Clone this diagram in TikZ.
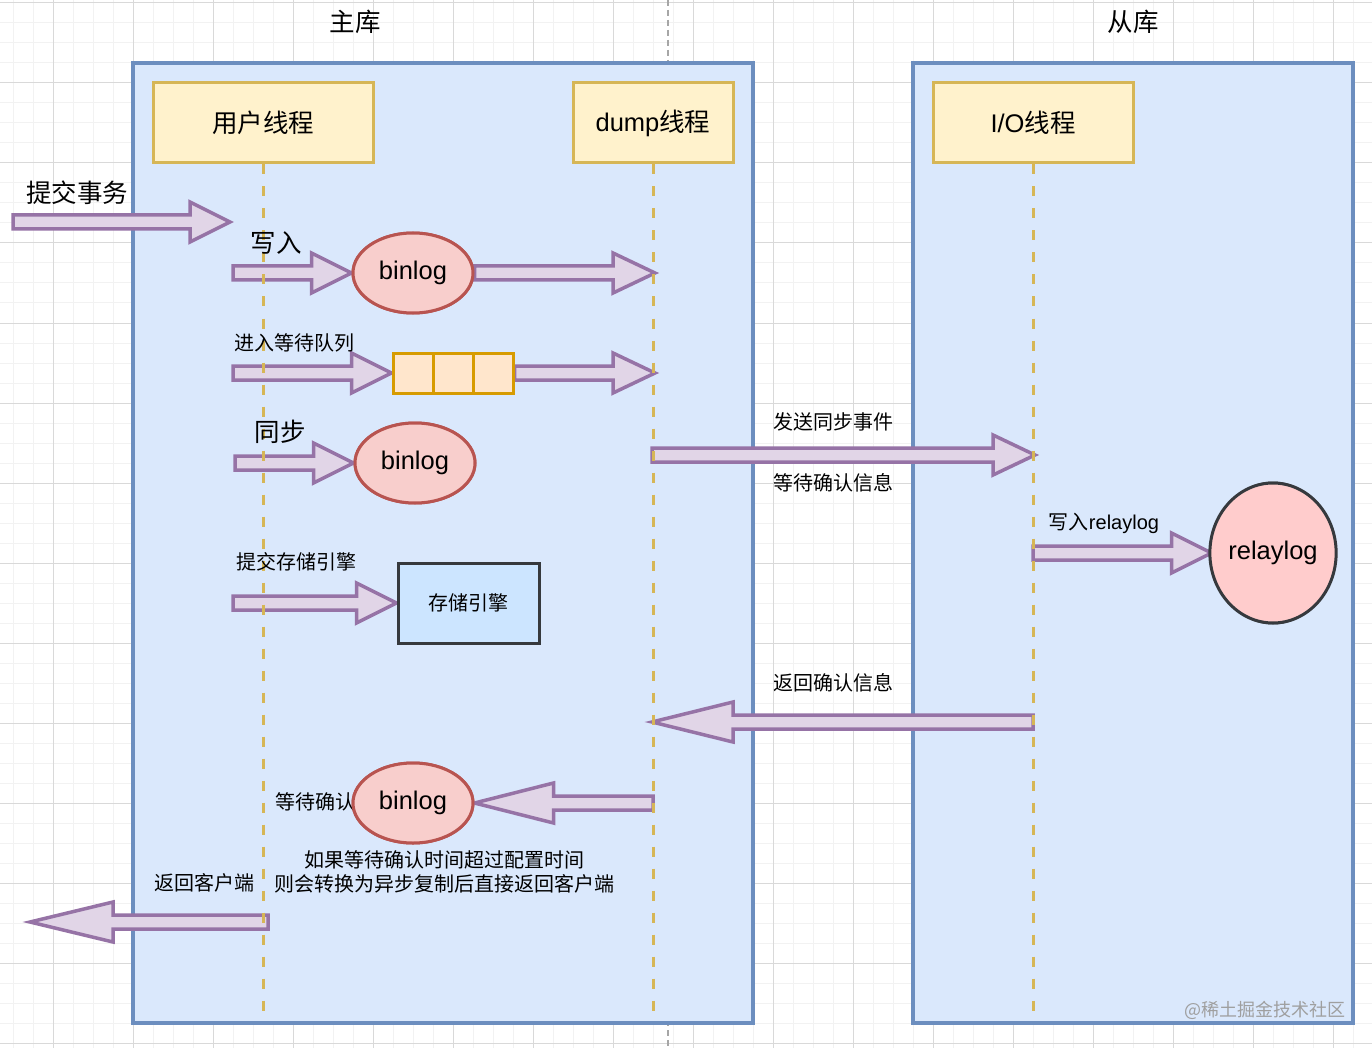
\documentclass[tikz,border=0pt]{standalone}
\usepackage{fontspec}
\setmainfont{Noto Sans CJK SC}
\newfontfamily\lat{Liberation Sans}
\usetikzlibrary{shapes.geometric,calc}
\definecolor{contF}{HTML}{DAE8FC}
\definecolor{contD}{HTML}{6C8EBF}
\definecolor{thrF}{HTML}{FFF2CC}
\definecolor{thrD}{HTML}{D6B656}
\definecolor{logF}{HTML}{F8CECC}
\definecolor{logD}{HTML}{B85450}
\definecolor{queF}{HTML}{FFE6CC}
\definecolor{queD}{HTML}{D79B00}
\definecolor{arrF}{HTML}{E1D5E7}
\definecolor{arrD}{HTML}{9673A6}
\definecolor{engF}{HTML}{CCE5FF}
\definecolor{darkD}{HTML}{36393D}
\definecolor{relF}{HTML}{FFCCCC}
\definecolor{gridMinor}{HTML}{F2F2F2}
\definecolor{gridMajor}{HTML}{D9D9D9}
\newcommand\fsL{\fontsize{25.5}{30}\selectfont}
\newcommand\fsS{\fontsize{20}{24}\selectfont}
\newcommand\fatarrow[3][40]{%
  \draw[fatarr] let \p1=(#2), \p2=(#3), \n1={(\x2-\x1)/abs(\x2-\x1)} in
    (\x1,\y1+7pt) -- (\x2-\n1*#1pt,\y1+7pt) -- (\x2-\n1*#1pt,\y1+20pt) --
    (\x2,\y1) -- (\x2-\n1*#1pt,\y1-20pt) -- (\x2-\n1*#1pt,\y1-7pt) --
    (\x1,\y1-7pt) -- cycle;}
\tikzset{
  container/.style={draw=contD,fill=contF,line width=3.5pt,outer sep=0pt,inner sep=0pt,anchor=north west},
  thread/.style={draw=thrD,fill=thrF,line width=3pt,minimum width=#1,minimum height=80pt,inner sep=0pt,font=\fsL},
  logell/.style={ellipse,draw=logD,fill=logF,line width=3pt,minimum width=120pt,minimum height=80pt,inner sep=0pt,font=\fsL\lat},
  quebox/.style={draw=queD,fill=queF,line width=3pt,minimum width=40pt,minimum height=40pt,inner sep=0pt},
  engbox/.style={draw=darkD,fill=engF,line width=3pt,minimum width=141pt,minimum height=80pt,inner sep=0pt,font=\fsS},
  relell/.style={ellipse,draw=darkD,fill=relF,line width=3pt,minimum width=120pt,minimum height=140pt,inner sep=0pt,font=\fsL\lat},
  fatarr/.style={draw=arrD,fill=arrF,line width=3.5pt,line join=miter},
  lifeline/.style={draw=thrD,line width=3pt,dash pattern=on 10pt off 12pt},
  lbl/.style={font=\fsS,inner sep=0pt},
  lblL/.style={font=\fsL,inner sep=0pt}
}
\begin{document}
\begin{tikzpicture}[x=1pt,y=-1pt]
\useasboundingbox (0,0) rectangle (1372,1048);
\fill[white] (0,0) rectangle (1372,1048);
% grid
\foreach \gx in {13,33,...,1372} \draw[gridMinor,line width=1pt] (\gx,0) -- (\gx,1048);
\foreach \gy in {3,23,...,1048} \draw[gridMinor,line width=1pt] (0,\gy) -- (1372,\gy);
\foreach \gx in {53,133,...,1372} \draw[gridMajor,line width=1pt] (\gx,0) -- (\gx,1048);
\foreach \gy in {3,83,...,1048} \draw[gridMajor,line width=1pt] (0,\gy) -- (1372,\gy);
% separator
\coordinate (sepT) at (668,0);
\coordinate (sepB) at (668,1048);
\draw[gray!70,line width=2pt,dash pattern=on 6pt off 4pt] (sepT) -- (sepB);
% containers
\node[container,minimum width=620pt,minimum height=960pt] (master) at (133,63) {};
\node[container,minimum width=440pt,minimum height=960pt] (slave) at (913,63) {};
\node[lblL] (tm) at (355,22) {主库};
\node[lblL] (ts) at (1133,22) {从库};
% thread boxes
\node[thread=220pt] (user) at (263,123) {用户线程};
\node[thread=160pt] (dump) at (653,123) {{\lat dump}线程};
\node[thread=200pt] (io) at (1033,123) {{\lat I/O}线程};
% coordinates
\coordinate (c1s) at (13,222);   \coordinate (c1e) at (230,222);
\coordinate (c2s) at (233,273);
\coordinate (c3e) at (655,273);
\coordinate (c4s) at (233,373);
\coordinate (c5e) at (655,373);
\coordinate (c6s) at (235,463);
\coordinate (c7s) at (233,603);
\coordinate (c8s) at (652,455);  \coordinate (c8e) at (1035,455);
\coordinate (c9s) at (1033,553);
\coordinate (c10s) at (1033,722); \coordinate (c10e) at (652,722);
\coordinate (c11s) at (653,803);
\coordinate (c12s) at (268,922); \coordinate (c12e) at (30,922);
% shapes that arrows attach to
\node[logell] (bl1) at (413,273) {};
\node[quebox] (q1) at (413,373) {};
\node[quebox] (q2) at (453,373) {};
\node[quebox] (q3) at (493,373) {};
\node[logell] (bl2) at (415,463) {};
\node[engbox] (eng) at (468.5,603) {};
\node[relell] (rel) at (1273,553) {};
\node[logell] (bl3) at (413,803) {};
% arrows
\fatarrow{c1s}{c1e}
\fatarrow{c2s}{bl1.west}
\fatarrow[42]{bl1.east}{c3e}
\fatarrow{c4s}{q1.west}
\fatarrow[42]{q3.east}{c5e}
\fatarrow{c6s}{bl2.west}
\fatarrow{c7s}{eng.west}
\fatarrow[42]{c8s}{c8e}
\fatarrow{c9s}{rel.west}
\fatarrow[81]{c10s}{c10e}
\fatarrow[79]{c11s}{bl3.east}
\fatarrow[83]{c12s}{c12e}
% lifelines
\coordinate (u2) at (263,1020); \coordinate (d2) at (653,1020); \coordinate (i2) at (1033,1020);
\draw[lifeline] (user.south) -- (u2);
\draw[lifeline] (dump.south) -- (d2);
\draw[lifeline] (io.south) -- (i2);
% shapes on top of lifelines and arrow ends
\node[logell] at (bl1) {\raisebox{-1.5pt}{binlog}};
\node[quebox] at (q1) {};
\node[quebox] at (q2) {};
\node[quebox] at (q3) {};
\node[logell] at (bl2) {\raisebox{-1.5pt}{binlog}};
\node[engbox] at (eng) {存储引擎};
\node[relell] at (rel) {\raisebox{-1.5pt}{relaylog}};
% labels
\node[lblL] (l1) at (77,193) {提交事务};
\node[lblL] (l2) at (276,243) {写入};
\node[lbl] (l3) at (294,343) {进入等待队列};
\node[lblL] (l4) at (280,432) {同步};
\node[lbl] (l5) at (296,562) {提交存储引擎};
\node[lbl] (l6) at (833,422) {发送同步事件};
\node[lbl] (l7) at (833,483) {等待确认信息};
\node[lbl] (l8) at (1104,523) {写入{\lat relaylog}};
\node[lbl] (l9) at (833,683) {返回确认信息};
\node[lbl,anchor=east] (l10) at (356,802) {等待确认};
\node[logell] at (bl3) {\raisebox{-1.5pt}{binlog}};
\node[lbl,align=center] (l11) at (444,872) {如果等待确认时间超过配置时间\\则会转换为异步复制后直接返回客户端};
\node[lbl] (l12) at (204,883) {返回客户端};
\node[font=\fontsize{18}{20}\selectfont,text=gray!75,inner sep=0pt] (wm) at (1265,1010) {@稀土掘金技术社区};
\end{tikzpicture}
\end{document}
